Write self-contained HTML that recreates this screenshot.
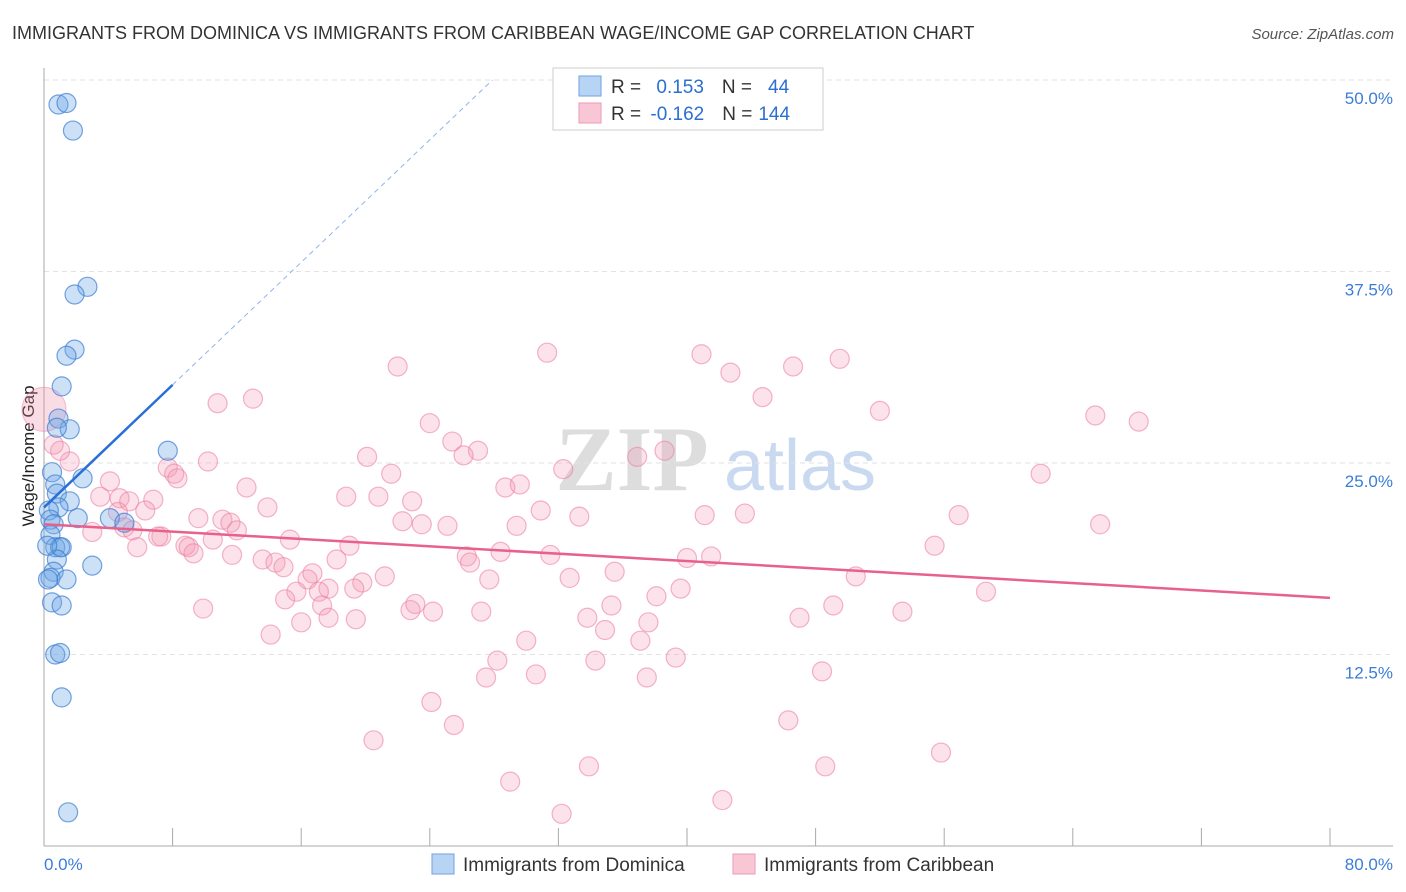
<!DOCTYPE html>
<html><head><meta charset="utf-8"><style>
body{margin:0;background:#fff;font-family:"Liberation Sans",sans-serif;}
svg{display:block}
</style></head><body>
<svg id="chart" width="1406" height="892" xmlns="http://www.w3.org/2000/svg">
<text x="12" y="39" font-size="18" fill="#333">IMMIGRANTS FROM DOMINICA VS IMMIGRANTS FROM CARIBBEAN WAGE/INCOME GAP CORRELATION CHART</text>
<text x="1394" y="39" font-size="15" fill="#555" font-style="italic" text-anchor="end">Source: ZipAtlas.com</text>
<text transform="translate(34,456) rotate(-90)" font-size="17" fill="#222" text-anchor="middle">Wage/Income Gap</text>
<g id="watermark">
<text x="632" y="490" font-size="92" font-family="Liberation Serif,serif" fill="#ddd" text-anchor="middle" font-weight="bold">ZIP</text>
<text x="800" y="490" font-size="72" fill="#c9daf0" text-anchor="middle">atlas</text>
</g>
<g id="grid"></g><g id="axes"></g><g id="marks"></g><g id="lines"></g>
<g>
<rect x="553" y="68" width="270" height="62" fill="#fff" stroke="#ccc"/>
<rect x="579" y="76" width="22" height="20" fill="#b8d4f5" stroke="#6fa2e0"/>
<rect x="579" y="103" width="22" height="20" fill="#f9c6d6" stroke="#ee9ab5"/>
<text x="611" y="93" font-size="19" fill="#333">R = <tspan fill="#2c6fd1" dx="10">0.153</tspan><tspan fill="#333" dx="18">N =</tspan><tspan fill="#2c6fd1" dx="16">44</tspan></text>
<text x="611" y="120" font-size="19" fill="#333">R = <tspan fill="#2c6fd1" dx="4">-0.162</tspan><tspan fill="#333" dx="18">N =</tspan><tspan fill="#2c6fd1" dx="6">144</tspan></text>
</g>
<g>
<rect x="432" y="854" width="22" height="20" fill="#b8d4f5" stroke="#6fa2e0"/>
<text x="463" y="871" font-size="19" fill="#333">Immigrants from Dominica</text>
<rect x="733" y="854" width="22" height="20" fill="#f9c6d6" stroke="#ee9ab5"/>
<text x="764" y="871" font-size="19" fill="#333">Immigrants from Caribbean</text>
</g>
</svg>
<script>
const yTicks=[12.5,25,37.5,50];
const yTickLabels=["12.5%","25.0%","37.5%","50.0%"];
const xTickVals=[0,8,16,24,32,40,48,56,64,72,80];
const xEndLabels=["0.0%","80.0%"];
const domX=[0.9,1.4,1.8,2.7,1.9,1.9,1.4,1.1,0.9,1.6,0.8,7.7,2.4,0.5,0.7,0.8,1.6,0.9,0.3,2.1,4.1,5.0,0.4,0.6,0.4,0.7,1.0,1.1,0.8,3.0,0.6,0.4,1.4,0.25,0.5,1.1,0.7,1.0,1.1,1.5,0.2];
const domY=[48.4,48.5,46.7,36.5,36.0,32.4,32.0,30.0,27.9,27.2,27.3,25.8,24.0,24.4,23.6,23.0,22.5,22.1,21.9,21.4,21.4,21.1,21.3,21.0,20.3,19.5,19.5,19.5,18.7,18.3,17.9,17.5,17.4,17.4,15.9,15.7,12.5,12.6,9.7,2.2,19.6];
const carX=[31.3,22.0,40.9,46.6,49.5,42.7,44.7,52.0,65.4,68.1,13.0,10.8,24.0,25.4,27.0,26.1,20.1,36.9,38.6,21.6,32.3,62.0,10.2,7.7,8.1,8.3,4.1,1.6,1.0,0.6,12.6,28.7,29.6,18.8,20.8,22.9,3.5,4.7,5.3,6.8,4.6,6.3,13.9,30.9,33.3,41.1,43.6,56.9,65.7,9.6,11.1,11.6,12.0,22.3,23.5,25.1,29.4,5.0,3.0,5.5,7.3,7.1,8.8,9.0,9.3,10.5,15.3,19.0,5.8,11.7,13.6,14.4,14.9,26.3,26.5,28.4,31.5,40.0,41.5,55.4,18.2,16.7,16.4,21.2,19.8,19.3,17.7,15.7,17.1,27.7,32.7,35.5,50.5,58.6,39.6,38.1,15.0,17.3,17.7,22.8,24.2,23.1,27.2,9.9,19.4,16.0,33.8,35.3,47.0,49.1,53.4,37.6,34.9,37.1,30.0,14.1,28.2,34.3,39.3,27.5,30.6,37.5,48.4,24.1,25.5,20.5,46.3,55.8,29.0,33.9,48.6,32.2,42.2];
const carY=[32.2,31.3,32.1,31.3,31.8,30.9,29.3,28.4,28.1,27.7,29.2,28.9,27.6,26.4,25.8,25.5,25.4,25.4,25.8,24.3,24.6,24.3,25.1,24.7,24.3,24.0,23.8,25.1,25.8,26.2,23.4,23.4,23.6,22.8,22.8,22.5,22.8,22.7,22.5,22.6,21.8,21.9,22.1,21.9,21.5,21.6,21.7,21.6,21.0,21.4,21.3,21.1,20.6,21.2,21.0,20.9,20.9,20.8,20.5,20.6,20.2,20.2,19.6,19.5,19.1,20.0,20.0,19.6,19.5,19.0,18.7,18.5,18.2,18.9,18.5,19.2,19.0,18.8,18.9,19.6,18.7,17.8,17.4,17.6,17.2,16.8,16.8,16.6,16.6,17.4,17.5,17.9,17.6,16.6,16.8,16.3,16.1,15.7,14.9,15.4,15.3,15.8,15.3,15.5,14.8,14.6,14.9,15.7,14.9,15.7,15.3,14.6,14.1,13.4,13.4,13.8,12.1,12.1,12.3,11.0,11.2,11.0,11.4,9.4,7.9,6.9,8.2,6.1,4.2,5.2,5.2,2.1,3.0];
const domTrend=[22.1,1.0];
const carTrend=[21.0,-0.06];
const NS="http://www.w3.org/2000/svg";
const X0=44,X1=1330,Y0=846,Y1=80;
const sx=v=>X0+v*(X1-X0)/80, sy=v=>Y0-v*(Y0-Y1)/50;
function mk(tag,attrs,parent){const e=document.createElementNS(NS,tag);for(const k in attrs)e.setAttribute(k,attrs[k]);parent.appendChild(e);return e;}
const grid=document.getElementById('grid'),axes=document.getElementById('axes'),marks=document.getElementById('marks'),lines=document.getElementById('lines');
yTicks.forEach((t,i)=>{
 const g=mk('line',{x1:X0,x2:1393,y1:sy(t),y2:sy(t),stroke:'#e2e2e2','stroke-dasharray':'5,4'},grid);
 
 
 const l=mk('text',{x:1393,y:sy(t)+24,'font-size':17,fill:'#3b7dd8','text-anchor':'end'},axes);
 l.textContent=yTickLabels[i];
 
 
});
const ya=mk('line',{x1:X0,x2:X0,y1:68,y2:846,stroke:'#aaa'},axes);


const xa=mk('line',{x1:X0,x2:1393,y1:846,y2:846,stroke:'#aaa'},axes);


xTickVals.forEach(t=>{const k=mk('line',{x1:sx(t),x2:sx(t),y1:828,y2:846,stroke:'#aaa'},axes);
 
 });
const xl0=mk('text',{x:44,y:870,'font-size':17,fill:'#3b7dd8'},axes);xl0.textContent=xEndLabels[0];


const xl1=mk('text',{x:1393,y:870,'font-size':17,fill:'#3b7dd8','text-anchor':'end'},axes);xl1.textContent=xEndLabels[1];


const big=mk('circle',{cx:sx(0),cy:sy(28.5),r:22,fill:'rgba(240,140,170,0.3)',stroke:'rgba(235,130,165,0.5)'},marks);


carX.forEach((x,i)=>{const c=mk('circle',{cx:sx(x),cy:sy(carY[i]),r:9.5,fill:'rgba(244,150,178,0.28)',stroke:'rgba(236,130,165,0.6)','stroke-width':1.2},marks);
 
 });
domX.forEach((x,i)=>{const c=mk('circle',{cx:sx(x),cy:sy(domY[i]),r:9.5,fill:'rgba(110,165,230,0.35)',stroke:'rgba(60,125,210,0.7)','stroke-width':1.2},marks);
 
 });
const pl=mk('line',{x1:sx(0),y1:sy(carTrend[0]),x2:sx(80),y2:sy(carTrend[0]+carTrend[1]*80),stroke:'#e8608c','stroke-width':2.5},lines);


const bl=mk('line',{x1:sx(0),y1:sy(domTrend[0]),x2:sx(8),y2:sy(domTrend[0]+domTrend[1]*8),stroke:'#2a6fd6','stroke-width':2.5},lines);


const xe=(50-domTrend[0])/domTrend[1];
const bd=mk('line',{x1:sx(8),y1:sy(domTrend[0]+domTrend[1]*8),x2:sx(xe),y2:sy(50),stroke:'#8fb4e6','stroke-width':1,'stroke-dasharray':'5,4'},lines);


</script>
</body></html>
